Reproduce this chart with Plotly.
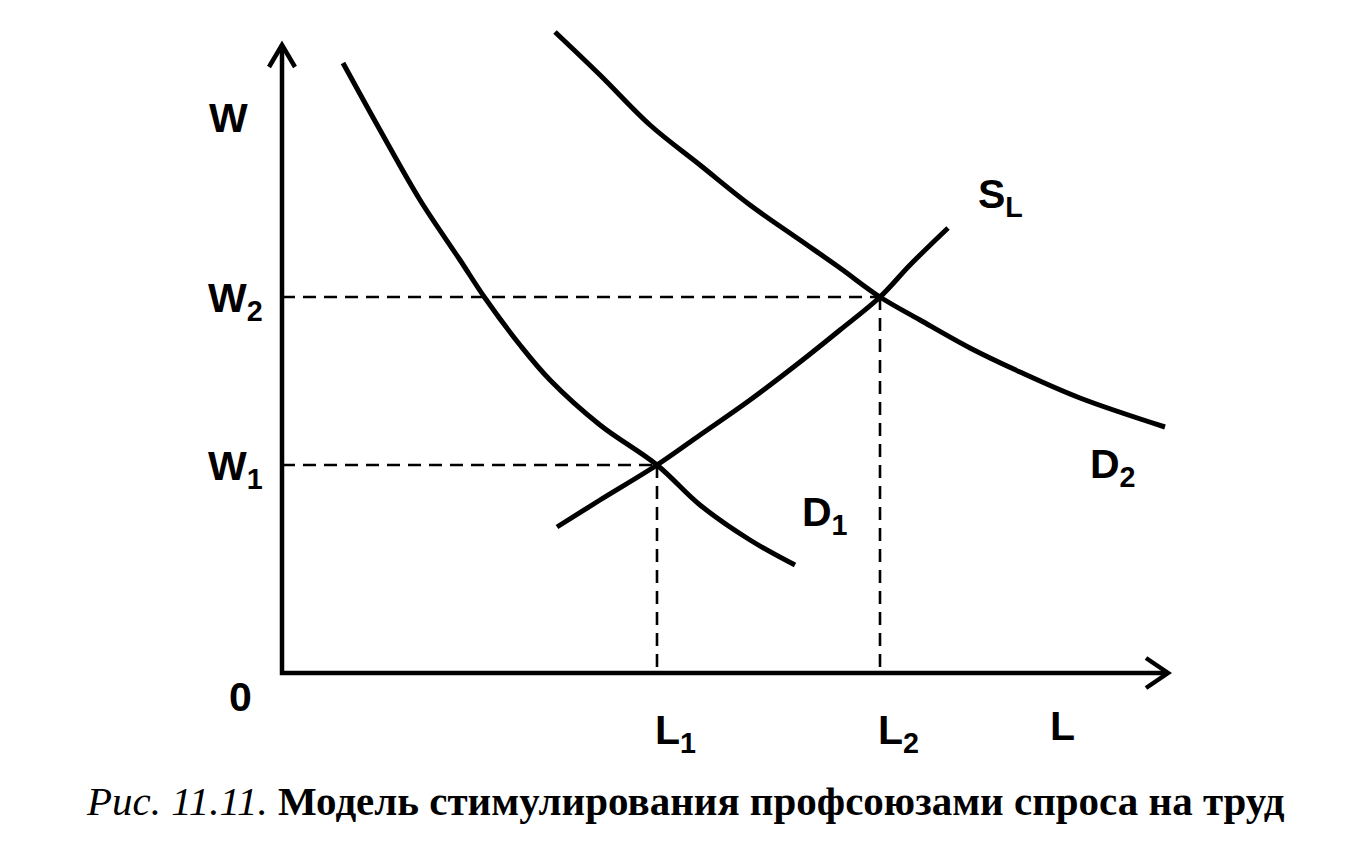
import plotly.graph_objects as go

# Values (units: L horizontal, W vertical, origin at O)
d1_L = [61, 98, 138, 178, 203, 238, 268, 318, 375, 418, 468, 513]
d1_W = [610, 543, 473, 413, 375, 328, 293, 248, 208, 168, 133, 108]

d2_L = [273, 318, 368, 418, 468, 518, 558, 598, 638, 688, 738, 798, 883]
d2_W = [641, 598, 548, 508, 468, 433, 405, 376, 353, 325, 301, 275, 246]

sl_L = [275, 318, 375, 418, 468, 518, 558, 598, 628, 666]
sl_W = [146, 173, 208, 238, 273, 311, 343, 376, 408, 445]

eq_L = [375, 598]   # L1, L2
eq_W = [208, 376]   # W1, W2
eq_names = ["1", "2"]

axis_L_max = 886
axis_W_max = 628

fig = go.Figure()

line_style = dict(color="black", width=5, shape="spline", smoothing=1.0)
fig.add_trace(go.Scatter(x=d1_L, y=d1_W, mode="lines", line=line_style))
fig.add_trace(go.Scatter(x=d2_L, y=d2_W, mode="lines", line=line_style))
fig.add_trace(go.Scatter(x=sl_L, y=sl_W, mode="lines", line=line_style))

# dashed guide lines
dash_style = dict(color="black", width=2.6, dash="13px,8px")
for L, W in zip(eq_L, eq_W):
    fig.add_trace(go.Scatter(x=[0, L], y=[W, W], mode="lines", line=dash_style))
    fig.add_trace(go.Scatter(x=[L, L], y=[W, 0], mode="lines", line=dash_style))

# axes with arrows
ax = dict(color="black", width=4.5)
fig.add_trace(go.Scatter(x=[0, 0, axis_L_max], y=[axis_W_max, 0, 0], mode="lines", line=ax))
fig.add_trace(go.Scatter(x=[-13, 0, 13], y=[axis_W_max - 22, axis_W_max, axis_W_max - 22],
                         mode="lines", line=ax))
fig.add_trace(go.Scatter(x=[axis_L_max - 22, axis_L_max, axis_L_max - 22], y=[15, 0, -15],
                         mode="lines", line=ax))

font = dict(family="Liberation Sans, Arial, sans-serif", size=41, color="black")

def label(text, x, y, xanchor="center"):
    fig.add_annotation(x=x, y=y, text=text, showarrow=False, font=font,
                       xanchor=xanchor, yanchor="middle")

label("<b>W</b>", -54, 555)
for L, W, n in zip(eq_L, eq_W, eq_names):
    label(f"<b>W<sub>{n}</sub></b>", -47, W - 4)
    label(f"<b>L<sub>{n}</sub></b>", L + 18, -60)
label("<b>0</b>", -42, -24)
label("<b>L</b>", 780, -53)
label("<b>S<sub>L</sub></b>", 718, 476)
label("<b>D<sub>1</sub></b>", 543, 158)
label("<b>D<sub>2</sub></b>", 831, 206)

fig.add_annotation(
    x=403, y=-128, showarrow=False, xanchor="center", yanchor="middle",
    text="<i>Рис. 11.11.</i> <b>Модель стимулирования профсоюзами спроса на труд</b>",
    font=dict(family="Liberation Serif, Times New Roman, serif", size=41, color="black"),
)

# page body adds an 8px offset, so the figure is 16px smaller and ranges shifted
fig.update_layout(
    width=1337, height=851, showlegend=False,
    margin=dict(l=0, r=0, t=0, b=0),
    paper_bgcolor="white", plot_bgcolor="white",
    xaxis=dict(range=[-274, 1063], visible=False, fixedrange=True),
    yaxis=dict(range=[-186, 665], visible=False, fixedrange=True),
)

fig.write_html("out.html")
